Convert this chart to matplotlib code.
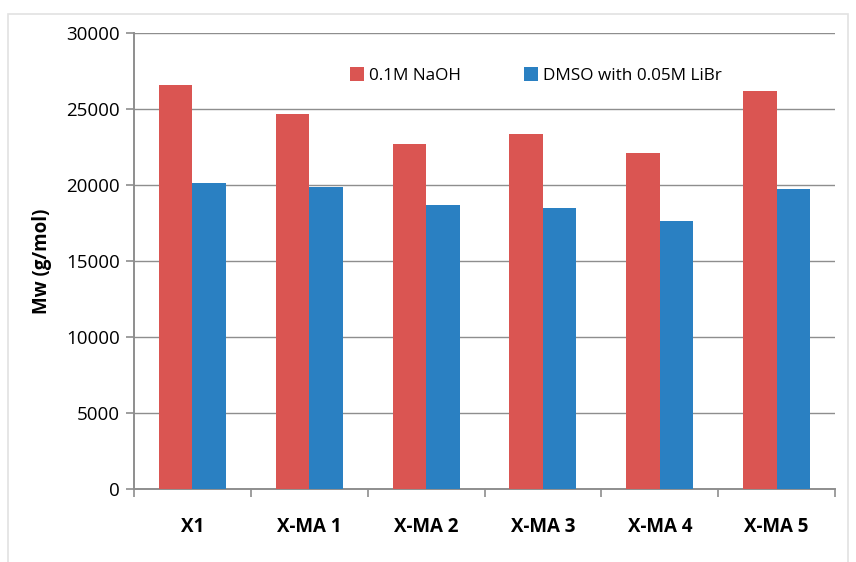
import matplotlib.pyplot as plt
import matplotlib.patches as mpatches
import numpy as np

# --------------------------------------
# Data
# --------------------------------------
categories = ['X1', 'X-MA 1', 'X-MA 2', 'X-MA 3', 'X-MA 4', 'X-MA 5']
naoh = [26600, 24670, 22720, 23360, 22110, 26200]
dmso = [20130, 19910, 18700, 18510, 17670, 19780]
series_labels = ['0.1M NaOH', 'DMSO with 0.05M LiBr']
yticks = [0, 5000, 10000, 15000, 20000, 25000, 30000]

red = '#DA5552'
blue = '#2A80C2'
grid_gray = '#8E8E8E'

plt.rcParams['font.family'] = ['Open Sans', 'DejaVu Sans']

fig = plt.figure(figsize=(8.56, 5.62), dpi=100)
# light frame around the chart area
fig.patches.append(mpatches.Rectangle((8 / 856, -0.01), 840 / 856, 1 - 14 / 562 + 0.01,
                                      transform=fig.transFigure, fill=False,
                                      edgecolor='#E2E2E2', linewidth=1.2))

ax = fig.add_axes([134 / 856, 1 - 489.3 / 562, 701 / 856, 456 / 562])

x = np.arange(len(categories)) + 0.5
w = 0.287
ax.bar(x - w / 2, naoh, width=w, color=red, label=series_labels[0], zorder=3)
ax.bar(x + w / 2, dmso, width=w, color=blue, label=series_labels[1], zorder=3)

ax.set_xlim(0, len(categories))
ax.set_ylim(0, 30000)
ax.set_yticks(yticks)
ax.set_yticklabels([str(v) for v in yticks], fontsize=13.5)
ax.yaxis.grid(True, color=grid_gray, linewidth=1.0, zorder=0)

# category boundaries as major ticks, labels centred as minor ticks
ax.set_xticks(np.arange(len(categories) + 1))
ax.set_xticklabels([])
ax.set_xticks(x, minor=True)
ax.set_xticklabels(categories, minor=True, fontsize=13.5, fontweight='bold')
ax.tick_params(axis='x', which='major', length=6, width=1.2, color=grid_gray, direction='out')
ax.tick_params(axis='x', which='minor', length=0, pad=20)
ax.tick_params(axis='y', length=6, width=1.2, color=grid_gray, direction='out', pad=4)

for s in ['top', 'right']:
    ax.spines[s].set_visible(False)
for s in ['left', 'bottom']:
    ax.spines[s].set_color(grid_gray)
    ax.spines[s].set_linewidth(1.4)

ax.set_ylabel('Mw (g/mol)', fontsize=13.5, fontweight='bold', labelpad=10)

ax.legend(loc='center left', bbox_to_anchor=(350 / 856, 1 - 75.7 / 562),
          bbox_transform=fig.transFigure, ncol=2, frameon=False, fontsize=12.3,
          handlelength=0.8, handleheight=0.8, handletextpad=0.3, columnspacing=3.7,
          borderpad=0, borderaxespad=0)

plt.savefig('out.png', dpi=100)
